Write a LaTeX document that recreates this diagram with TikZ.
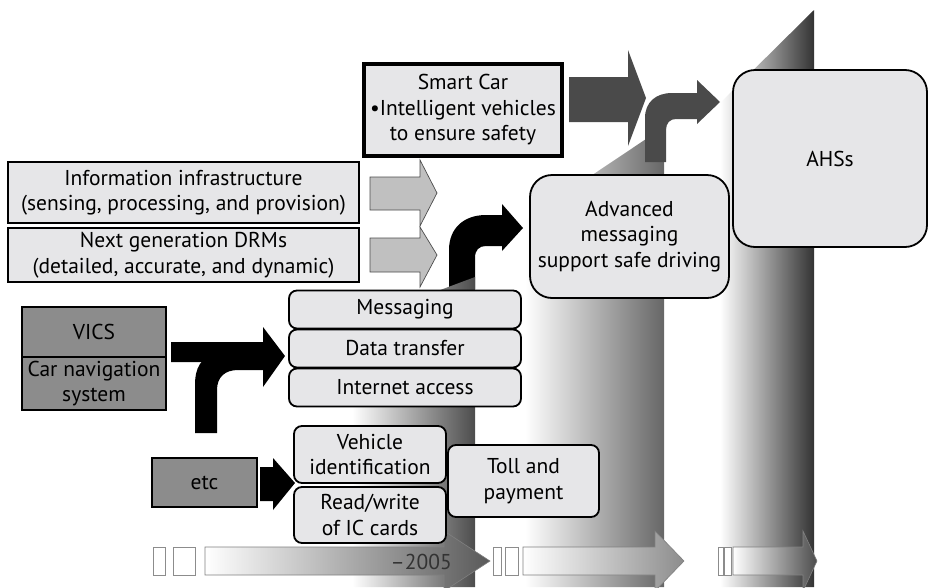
\documentclass[tikz,border=0pt]{standalone}
\usepackage{fontspec}
\setmainfont{PT Sans}
\usepackage{tikz}
\definecolor{boxfill}{RGB}{230, 230, 232}
\definecolor{midgray}{RGB}{140, 140, 140}
\definecolor{arrowgray}{RGB}{192, 192, 192}
\definecolor{darkarrow}{RGB}{74, 74, 74}
\tikzset{
	lightbox/.style = {draw, line width = 1.8pt, fill = boxfill, inner sep = 0pt, align = center, font = \fontsize{21.5}{25.5}\selectfont},
	roundbox/.style = {lightbox, rounded corners = 8pt},
	biground/.style = {lightbox, rounded corners = 22pt},
	graybox/.style = {lightbox, fill = midgray},
	smallbar/.style = {draw = black!45, line width = 0.6pt, fill = white},
	timearrow/.style = {draw = black!50, line width = 0.6pt, left color = white}
}

\begin{document}
\begin{tikzpicture}[x = 1pt, y = -1pt]
	\useasboundingbox (0, 0) rectangle (930, 587);
	% columns
	\shade[left color = white, middle color = black!18, right color = black!60] (525, 220) -- (664, 127) -- (664, 587) -- (525, 587) -- cycle;
	\shade[left color = white, middle color = black!22, right color = black!80] (720, 103) -- (814, 10) -- (814, 587) -- (720, 587) -- cycle;
	% arrows
	\fill[arrowgray, draw = black!70, line width = 0.7pt] (370, 177) -- (420, 177) -- (420, 160) -- (437, 193) -- (420, 226) -- (420, 210) -- (370, 210) -- cycle;
	\fill[arrowgray, draw = black!70, line width = 0.7pt] (370, 238) -- (420, 238) -- (420, 227) -- (437, 255) -- (420, 287) -- (420, 272) -- (370, 272) -- cycle;
	\fill[black] (449, 289) -- (449, 250) .. controls (449, 228) and (464, 215) .. (486, 215) -- (502, 215) -- (502, 204) -- (523, 228) -- (502, 251) -- (502, 246) -- (486, 246) .. controls (479, 246) and (475, 250) .. (475, 258) -- (475, 289) -- cycle;
	\shade[left color = white, middle color = black!20, right color = black!70] (352, 323) -- (475, 277) -- (475, 587) -- (352, 587) -- cycle;
	\fill[darkarrow] (569, 77) -- (628, 77) -- (628, 50) -- (646, 98) -- (628, 146) -- (628, 122) -- (569, 122) -- cycle;
	\fill[darkarrow] (645, 162) -- (645, 118) .. controls (645, 102) and (656, 93) .. (672, 93) -- (697, 93) -- (697, 80) -- (720, 102) -- (697, 124) -- (697, 119) -- (676, 119) .. controls (670, 119) and (666, 123) .. (666, 130) -- (666, 162) -- cycle;
	\fill[black] (171, 342) -- (263, 342) -- (263, 327) -- (285, 356) -- (263, 387) -- (263, 362) -- (171, 362) -- cycle;
	\fill[black] (195, 433) -- (195, 385) .. controls (195, 368) and (201, 356) .. (216, 356) -- (263, 356) -- (263, 370) -- (238, 370) .. controls (225, 370) and (217, 377) .. (217, 390) -- (217, 433) -- cycle;
	\fill[black] (260, 467) -- (273, 467) -- (273, 458) -- (295, 483) -- (273, 510) -- (273, 501) -- (260, 501) -- cycle;
	% time line
	\draw[smallbar] (153, 547) rectangle (165, 575);
	\draw[smallbar] (173, 547) rectangle (195, 575);
	\shade[timearrow, right color = black!65] (205, 547) -- (444, 547) -- (444, 531) -- (490, 561) -- (444, 591) -- (444, 575) -- (205, 575) -- cycle;
	\draw[smallbar] (493, 547) rectangle (501, 575);
	\draw[smallbar] (505, 547) rectangle (518, 575);
	\shade[timearrow, right color = black!45] (523, 547) -- (655, 547) -- (655, 531) -- (684, 561) -- (655, 591) -- (655, 575) -- (523, 575) -- cycle;
	\draw[smallbar] (718, 547) rectangle (723, 575);
	\draw[smallbar] (724, 547) rectangle (731, 575);
	\shade[timearrow, right color = black!70] (733, 547) -- (803, 547) -- (803, 531) -- (817, 561) -- (803, 591) -- (803, 575) -- (733, 575) -- cycle;
	\node[font = \fontsize{21.5}{25.5}\selectfont, text = black!80, anchor = east, inner sep = 0pt] (yr) at (452, 562) {–2005};
	% boxes
	\node[lightbox, minimum width = 351, minimum height = 61] (info) at (183.5, 192.5) {Information infrastructure\\(sensing, processing, and provision)};
	\node[lightbox, minimum width = 351, minimum height = 54] (drm) at (183.5, 255) {Next generation DRMs\\(detailed, accurate, and dynamic)};
	\node[lightbox, line width = 3.5pt, minimum width = 198, minimum height = 92] (smartcar) at (463, 110) {Smart Car\\\textbullet Intelligent vehicles\\to ensure safety};
	\node[graybox, minimum width = 144, minimum height = 50] (vics) at (94, 332) {VICS};
	\node[graybox, minimum width = 144, minimum height = 53] (carnav) at (94, 383.5) {Car navigation\\system};
	\node[graybox, minimum width = 105, minimum height = 49] (etcbox) at (204.5, 482.5) {etc};
	\node[roundbox, minimum width = 232, minimum height = 38] (msg) at (405, 309.5) {Messaging};
	\node[roundbox, minimum width = 232, minimum height = 38] (datatr) at (405, 348.5) {Data transfer};
	\node[roundbox, minimum width = 232, minimum height = 38] (inet) at (405, 387.5) {Internet access};
	\node[roundbox, minimum width = 152, minimum height = 57] (vehid) at (370, 454.5) {Vehicle\\identification};
	\node[roundbox, minimum width = 152, minimum height = 56] (rwcard) at (370, 515) {Read/write\\of IC cards};
	\node[roundbox, minimum width = 151, minimum height = 72] (toll) at (523.5, 481) {Toll and\\payment};
	\node[biground, minimum width = 199, minimum height = 123] (advmsg) at (629.5, 236.5) {Advanced\\messaging\\support safe driving};
	\node[biground, minimum width = 194, minimum height = 177] (ahs) at (830, 158.5) {AHSs};
\end{tikzpicture}
\end{document}
